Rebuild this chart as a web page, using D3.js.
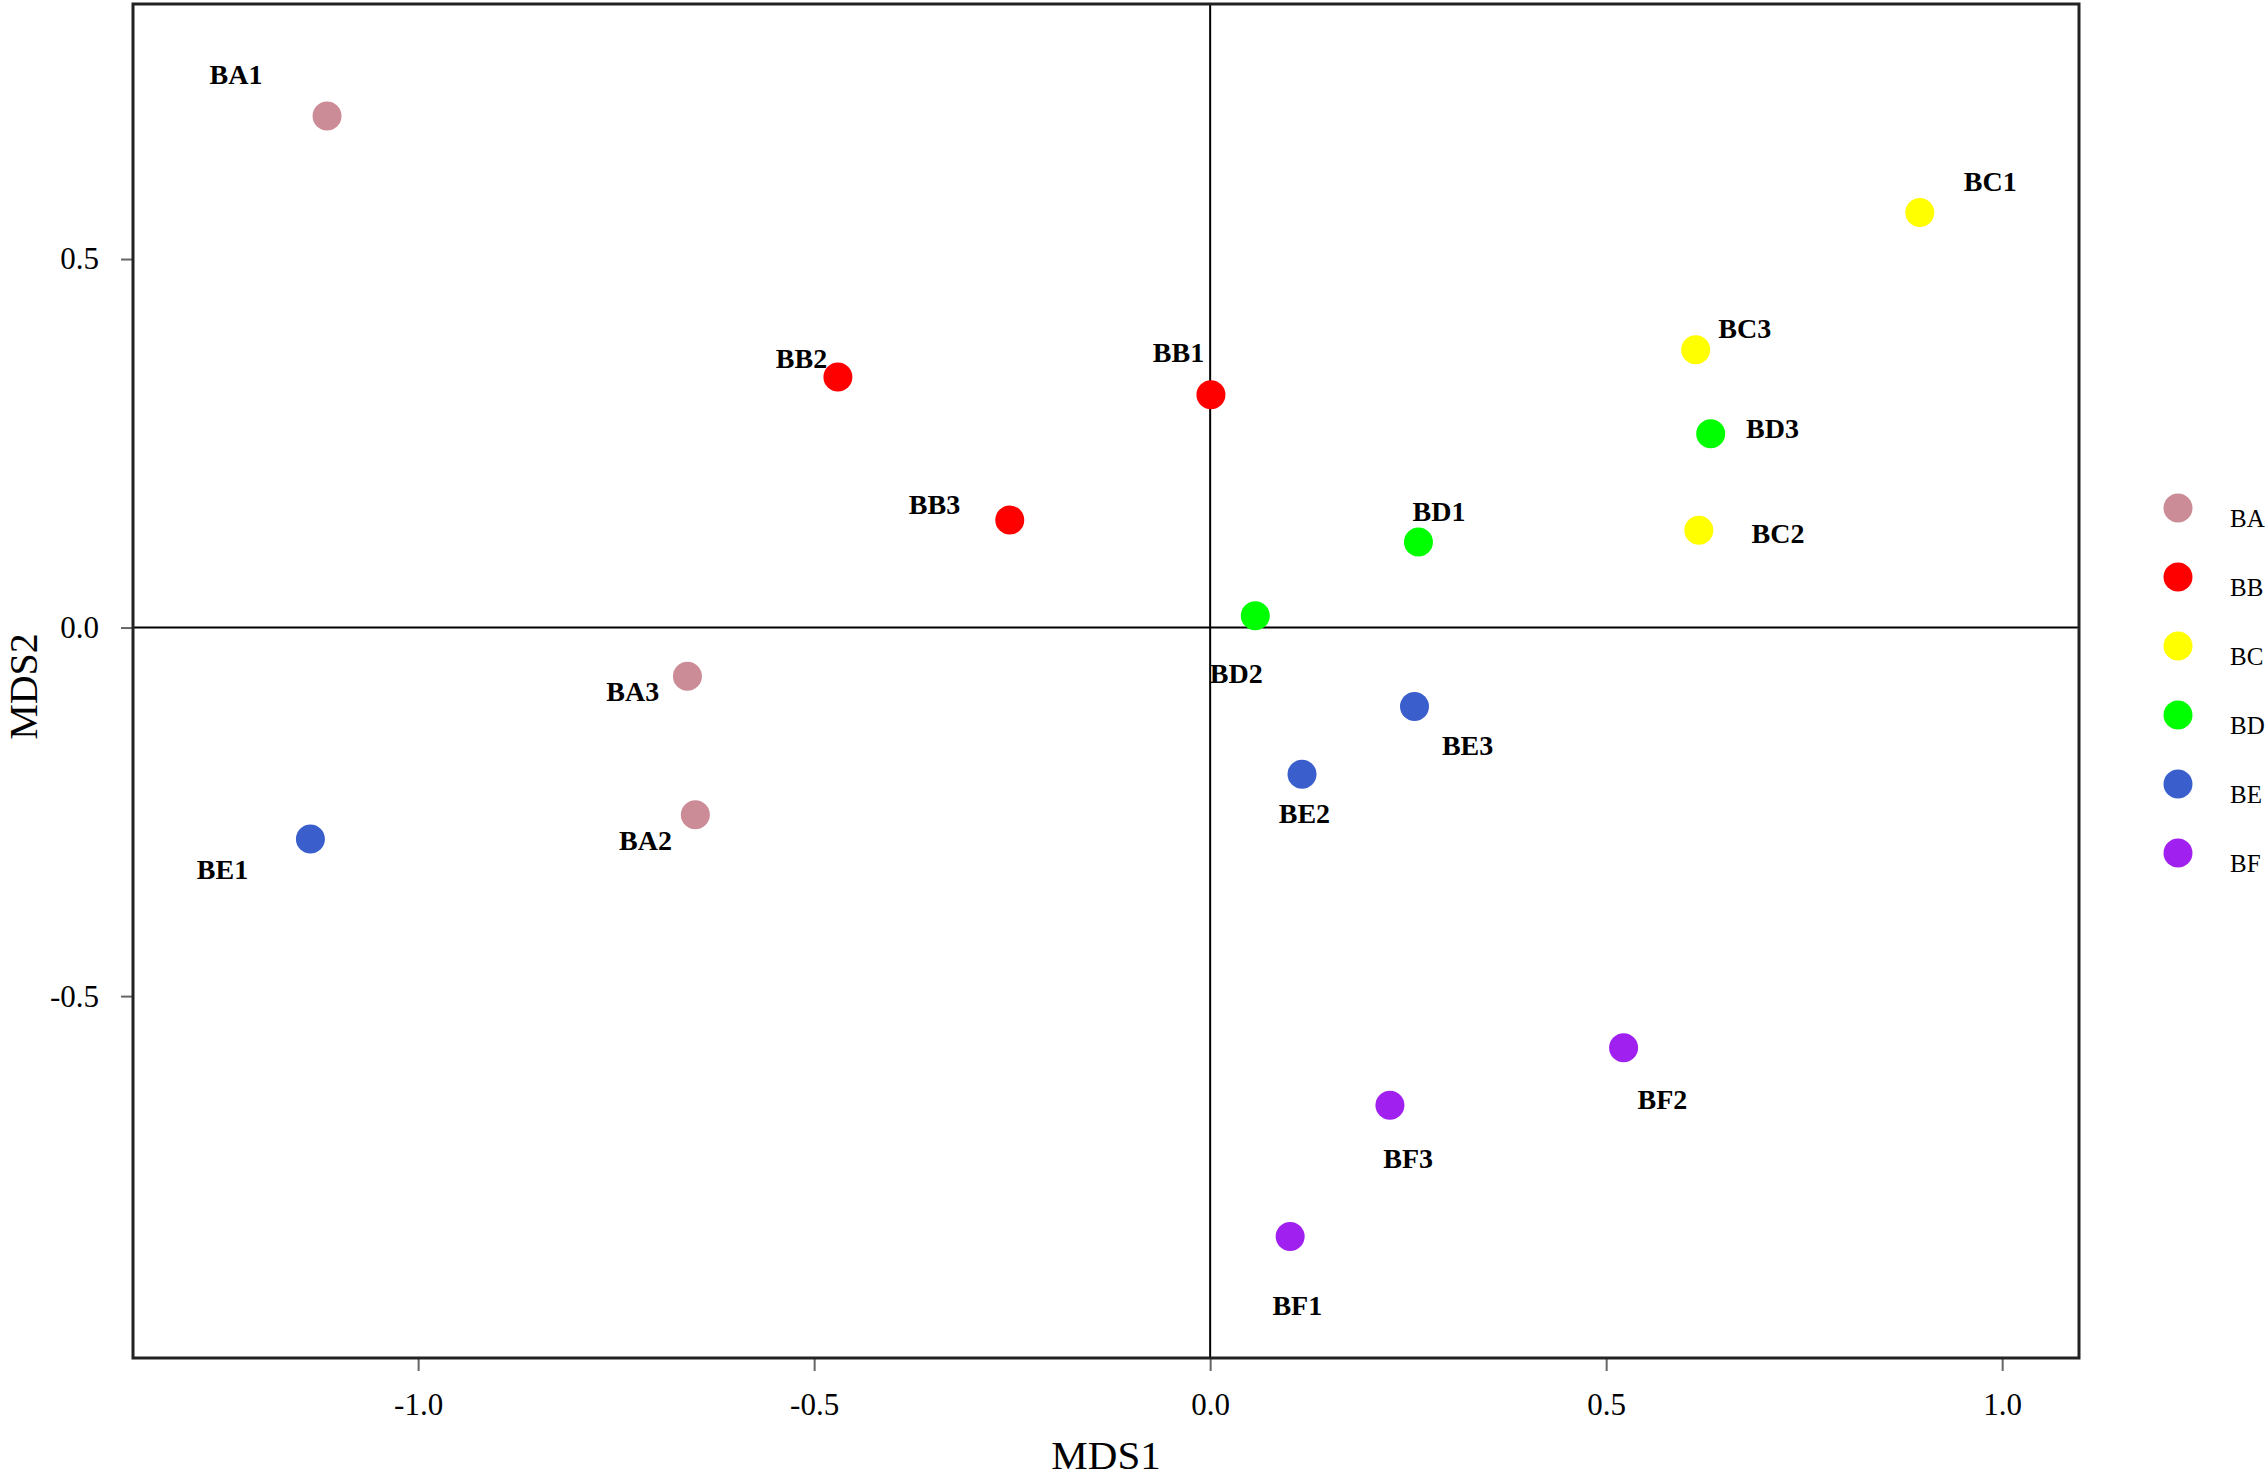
<!DOCTYPE html>
<html>
<head>
<meta charset="utf-8">
<script src="https://cdn.jsdelivr.net/npm/d3@7"></script>
<style>
html,body{margin:0;padding:0;background:#fff;}
svg{display:block;}
text{font-family:"Liberation Serif","Times New Roman",serif;}
</style>
</head>
<body>
<svg id="chart" width="2265" height="1478"></svg>
<script>
// ---- data ----
const samples = ["BA1","BA2","BA3","BB1","BB2","BB3","BC1","BC2","BC3","BD1","BD2","BD3","BE1","BE2","BE3","BF1","BF2","BF3"];
const groupOf = ["BA","BA","BA","BB","BB","BB","BC","BC","BC","BD","BD","BD","BE","BE","BE","BF","BF","BF"];
const mds1 = [-1.115,-0.650,-0.660, 0.001,-0.470,-0.253, 0.896,0.617,0.613, 0.263,0.057,0.632, -1.136,0.116,0.258, 0.101,0.522,0.227];
const mds2 = [ 0.694,-0.254,-0.066, 0.316, 0.340, 0.146, 0.563,0.132,0.377, 0.116,0.016,0.263, -0.287,-0.199,-0.107, -0.826,-0.570,-0.648];
// label anchor positions (data units)
const labelX = [-1.230,-0.713,-0.729, -0.040,-0.516,-0.348, 0.985,0.717,0.675, 0.289,0.033,0.710, -1.247,0.119,0.325, 0.110,0.571,0.250];
const labelY = [ 0.751,-0.289,-0.087,  0.373, 0.365, 0.167, 0.606,0.128,0.406, 0.158,-0.062,0.271, -0.328,-0.252,-0.160, -0.920,-0.640,-0.720];
const groups = ["BA","BB","BC","BD","BE","BF"];
const groupColors = ["#CC8C97","#FF0000","#FFFF00","#00FF00","#3A5FCD","#A020F0"];
const xTicks = [-1.0,-0.5,0.0,0.5,1.0];
const yTicks = [-0.5,0.0,0.5];
const xDomain = [-1.360, 1.097];
const yDomain = [-0.991, 0.846];

// ---- layout ----
const svg = d3.select("#chart");
const L = 133, R = 2079, T = 4, B = 1358;
const x = d3.scaleLinear().domain(xDomain).range([L, R]);
const y = d3.scaleLinear().domain(yDomain).range([B, T]);
const color = d3.scaleOrdinal().domain(groups).range(groupColors);
const fmt = v => v.toFixed(1);

// axes
const gx = svg.append("g").attr("transform", `translate(0,${B})`)
  .call(d3.axisBottom(x).tickValues(xTicks).tickFormat(fmt).tickSize(13).tickPadding(22));
gx.select(".domain").remove();
gx.selectAll(".tick line").attr("stroke", "#666").attr("stroke-width", 2);
gx.selectAll(".tick text").attr("font-size", 31).attr("fill", "#000");

const gy = svg.append("g").attr("transform", `translate(${L},0)`)
  .call(d3.axisLeft(y).tickValues(yTicks).tickFormat(fmt).tickSize(12).tickPadding(22));
gy.select(".domain").remove();
gy.selectAll(".tick line").attr("stroke", "#666").attr("stroke-width", 2);
gy.selectAll(".tick text").attr("font-size", 31).attr("fill", "#000");

// reference lines at 0
svg.append("line").attr("x1", L).attr("x2", R).attr("y1", y(0)).attr("y2", y(0))
  .attr("stroke", "#000").attr("stroke-width", 2);
svg.append("line").attr("x1", x(0)).attr("x2", x(0)).attr("y1", T).attr("y2", B)
  .attr("stroke", "#000").attr("stroke-width", 2);

// frame
svg.append("rect").attr("x", L).attr("y", T).attr("width", R - L).attr("height", B - T)
  .attr("fill", "none").attr("stroke", "#222").attr("stroke-width", 3);

// axis titles
svg.append("text").attr("x", (L + R) / 2).attr("y", 1469).attr("text-anchor", "middle")
  .attr("font-size", 41).text("MDS1");
svg.append("text").attr("transform", `translate(37,${y(-0.08)}) rotate(-90)`)
  .attr("text-anchor", "middle").attr("font-size", 40).text("MDS2");

// points
const idx = d3.range(samples.length);
svg.append("g").selectAll("circle").data(idx).join("circle")
  .attr("cx", i => x(mds1[i])).attr("cy", i => y(mds2[i])).attr("r", 14.5)
  .attr("fill", i => color(groupOf[i]));

// labels
svg.append("g").selectAll("text").data(idx).join("text")
  .attr("x", i => x(labelX[i])).attr("y", i => y(labelY[i]))
  .attr("dy", "0.35em").attr("text-anchor", "middle")
  .attr("font-size", 28).attr("font-weight", "bold").text(i => samples[i]);

// legend
const legend = svg.append("g");
const ly = d3.scalePoint().domain(groups).range([508, 853]);
legend.selectAll("circle").data(groups).join("circle")
  .attr("cx", 2178).attr("cy", d => ly(d)).attr("r", 14.5).attr("fill", d => color(d));
legend.selectAll("text").data(groups).join("text")
  .attr("x", 2230).attr("y", d => ly(d) + 10).attr("dy", "0.35em")
  .attr("font-size", 25).text(d => d);
</script>
</body>
</html>
